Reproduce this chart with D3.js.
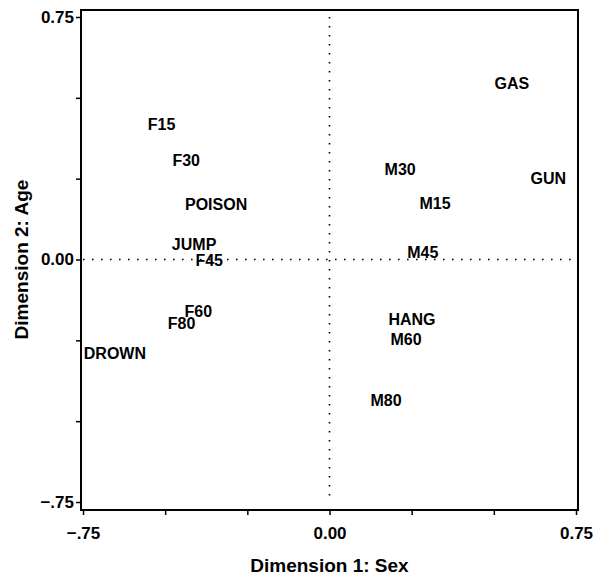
<!DOCTYPE html>
<html>
  <head>
    <meta charset="UTF-8">
    <script src="https://cdn.jsdelivr.net/npm/d3@7"></script>
    <style>
      body { margin: 0; background: #fff; }
      text { font-family: "Liberation Sans", Arial, sans-serif; font-weight: bold; fill: #000; }
    </style>
  </head>
  <body>
    <svg id="chart" width="595" height="575"></svg>
  <script>
      // point labels and coordinates (dimension 1, dimension 2)
      var labels = ["GAS", "GUN", "M30", "M15", "M45", "HANG", "M60", "M80",
                    "F15", "F30", "POISON", "JUMP", "F45", "F60", "F80", "DROWN"];
      var dim1 = [0.555, 0.666, 0.215, 0.321, 0.284, 0.251, 0.233, 0.172,
                  -0.511, -0.436, -0.345, -0.412, -0.366, -0.399, -0.450, -0.653];
      var dim2 = [0.545, 0.252, 0.280, 0.175, 0.023, -0.184, -0.246, -0.435,
                  0.418, 0.305, 0.170, 0.048, -0.003, -0.162, -0.197, -0.289];
      var tickValues = [-0.75, -0.5, -0.25, 0, 0.25, 0.5, 0.75];
      var tickLabels = {"-0.75": "\u2212.75", "0": "0.00", "0.75": "0.75"};

      var svg = d3.select("#chart");
      var x = d3.scaleLinear().domain([-0.75, 0.75]).range([83, 576]);
      var y = d3.scaleLinear().domain([-0.75, 0.75]).range([502, 17]);

      function fmt(d){
        var k = String(d);
        return tickLabels[k] !== undefined ? tickLabels[k] : "";
      }

      // frame
      svg.append("rect")
          .attr("x", x.range()[0] - 2)
          .attr("y", y.range()[1] - 7)
          .attr("width", x.range()[1] - x.range()[0] + 4)
          .attr("height", y.range()[0] - y.range()[1] + 15)
          .attr("fill", "none")
          .attr("stroke", "#000")
          .attr("stroke-width", 2);

      var xAxis = svg.append("g")
          .attr("transform", "translate(0," + (y.range()[0] + 8) + ")")
          .call(d3.axisBottom(x).tickValues(tickValues).tickFormat(fmt).tickSize(5).tickPadding(12));
      var yAxis = svg.append("g")
          .attr("transform", "translate(" + (x.range()[0] - 2) + ",0)")
          .call(d3.axisLeft(y).tickValues(tickValues).tickFormat(fmt).tickSize(5).tickPadding(2));
      [xAxis, yAxis].forEach(function(a){
        a.select(".domain").remove();
        a.selectAll(".tick line").attr("stroke", "#000").attr("stroke-width", 1.5);
        a.selectAll(".tick text")
            .attr("fill", "#000")
            .style("font-size", "17px")
            .style("font-family", "'Liberation Sans', Arial, sans-serif")
            .style("font-weight", "bold");
      });

      // reference lines through the origin
      svg.append("line")
          .attr("x1", x(-0.75)).attr("x2", x(0.75))
          .attr("y1", y(0)).attr("y2", y(0))
          .attr("stroke", "#000").attr("stroke-width", 1.6)
          .attr("stroke-dasharray", "1.6,7.4");
      svg.append("line")
          .attr("x1", x(0)).attr("x2", x(0))
          .attr("y1", y(0.75)).attr("y2", y(-0.75))
          .attr("stroke", "#000").attr("stroke-width", 1.6)
          .attr("stroke-dasharray", "1.6,7.4");

      // point labels
      svg.selectAll("text.pt")
          .data(labels)
          .enter().append("text")
          .attr("class", "pt")
          .attr("x", function(d, i){ return x(dim1[i]); })
          .attr("y", function(d, i){ return y(dim2[i]); })
          .attr("dy", "0.35em")
          .attr("text-anchor", "middle")
          .style("font-size", "16px")
          .text(function(d){ return d; });

      // axis titles
      svg.append("text")
          .attr("x", x(0))
          .attr("y", 572)
          .attr("text-anchor", "middle")
          .style("font-size", "19px")
          .text("Dimension 1: Sex");
      svg.append("text")
          .attr("transform", "translate(28," + y(0) + ") rotate(-90)")
          .attr("text-anchor", "middle")
          .style("font-size", "19px")
          .text("Dimension 2: Age");
  </script>
  </body>
</html>
